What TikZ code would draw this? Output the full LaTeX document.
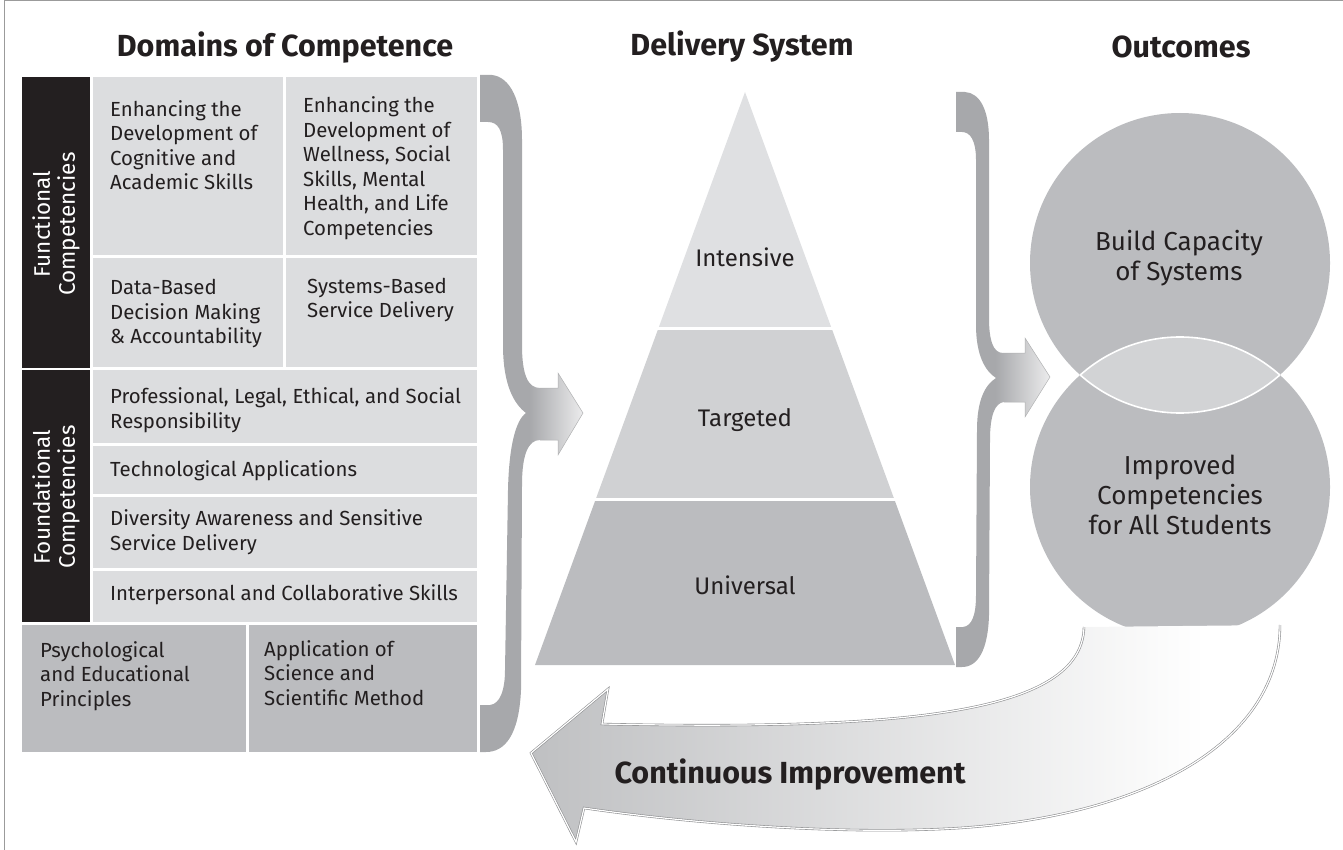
\documentclass[tikz,border=0pt]{standalone}
\usepackage{fontspec}
\setmainfont{Fira Sans}
\definecolor{ink}{HTML}{231F20}
\definecolor{cellL}{HTML}{DCDDDF}
\definecolor{cellD}{HTML}{BBBCBF}
\definecolor{braceG}{HTML}{A7A8AB}
\definecolor{braceL}{HTML}{ECECED}
\definecolor{pyrI}{HTML}{DFE0E2}
\definecolor{pyrT}{HTML}{D0D1D3}
\definecolor{pyrU}{HTML}{BBBCBF}
\definecolor{lensC}{HTML}{D2D3D5}
\definecolor{arrowG}{HTML}{BFC0C2}
\definecolor{frameC}{HTML}{9B9B9B}
\definecolor{edgeC}{HTML}{8E8F91}
\pgfdeclarehorizontalshading{braceA}{100bp}{color(0bp)=(braceG); color(49bp)=(braceG); color(75bp)=(braceL); color(100bp)=(braceL)}
\pgfdeclarehorizontalshading{braceB}{100bp}{color(0bp)=(braceG); color(46bp)=(braceG); color(75bp)=(braceL); color(100bp)=(braceL)}
\pgfdeclarehorizontalshading{ciShade}{100bp}{color(0bp)=(arrowG); color(25bp)=(arrowG); color(70bp)=(white); color(100bp)=(white)}
\tikzset{
  celltext/.style={anchor=west, align=left, inner sep=0pt, text=ink, font=\fontsize{20.4}{24.5}\selectfont},
  titletext/.style={inner sep=0pt, text=ink, font=\fontsize{30.5}{34}\selectfont\bfseries},
  sidetext/.style={rotate=90, align=center, inner sep=0pt, text=white, font=\fontsize{22.5}{25}\selectfont},
  pyrtext/.style={inner sep=0pt, text=ink, font=\fontsize{24}{28}\selectfont},
  circtext/.style={align=center, inner sep=0pt, text=ink, font=\fontsize{26}{30}\selectfont},
  sepline/.style={draw=white, line width=3pt},
}
\begin{document}
\begin{tikzpicture}[x=1pt,y=-1pt]
\useasboundingbox (0,0) rectangle (1343,850);
% frame
\draw[frameC, line width=1.5pt] (4.5,850) -- (4.5,0.75) -- (1343,0.75);

% titles
\node[titletext] (t1) at (285,48) {Domains of Competence};
\node[titletext] (t2) at (742,47) {Delivery System};
\node[titletext] (t3) at (1181,47) {Outcomes};

% black side bars
\fill[ink] (22,77) rectangle (90,368);
\fill[ink] (22,370) rectangle (90,622);
\node[sidetext] (fc) at (56,224) {Functional\\Competencies};
\node[sidetext] (fo) at (56,497) {Foundational\\Competencies};

% functional cells
\fill[cellL] (93,77) rectangle (283,255);
\fill[cellL] (286,77) rectangle (477,255);
\fill[cellL] (93,258) rectangle (283,367);
\fill[cellL] (286,258) rectangle (477,367);
\node[celltext] (c1) at (110,145) {Enhancing the\\Development of\\Cognitive and\\Academic Skills};
\node[celltext] (c2) at (303,168) {Enhancing the\\Development of\\Wellness, Social\\Skills, Mental\\Health, and Life\\Competencies};
\node[celltext] (c3) at (110,314) {Data-Based\\Decision Making\\\& Accountability};
\node[celltext] (c4) at (307,300) {Systems-Based\\Service Delivery};

% foundational rows
\fill[cellL] (93,370) rectangle (477,443);
\fill[cellL] (93,446) rectangle (477,494);
\fill[cellL] (93,497) rectangle (477,568);
\fill[cellL] (93,571) rectangle (477,622);
\node[celltext] (f1) at (110,410) {Professional, Legal, Ethical, and Social\\Responsibility};
\node[celltext] (f2) at (110,471) {Technological Applications};
\node[celltext] (f3) at (110,532) {Diversity Awareness and Sensitive\\Service Delivery};
\node[celltext] (f4) at (110,595) {Interpersonal and Collaborative Skills};

% bottom cells
\fill[cellD] (22,625) rectangle (246,752);
\fill[cellD] (249,625) rectangle (477,752);
\node[celltext] (b1) at (40,676) {Psychological\\and Educational\\Principles};
\node[celltext] (b2) at (264,673) {Application of\\Science and\\Scientific Method};

% brace 1
\shade[shading=braceA]
  (480,75) -- (492,75) .. controls (510,77) and (522,100) .. (522,140)
  -- (522,345) .. controls (522,375) and (528,388) .. (540,388)
  -- (558,388) -- (558,373) -- (583,413) -- (558,455) -- (558,440) -- (540,440)
  .. controls (528,440) and (522,455) .. (522,485)
  -- (521,690) .. controls (519,735) and (505,752) .. (486,752) -- (480,752)
  -- (480,705) -- (490,705) .. controls (500,704) and (505,690) .. (505,670)
  -- (508,490) .. controls (509,445) and (516,420) .. (526,413)
  .. controls (514,404) and (503,385) .. (503,345)
  -- (503,150) .. controls (503,130) and (498,122) .. (488,122) -- (480,122) -- cycle;
\draw[edgeC!70, line width=0.5pt] (540,388) -- (558,388) -- (558,373) -- (583,413) -- (558,455) -- (558,440) -- (540,440);

% pyramid
\fill[pyrI] (745,92) -- (658.5,328) -- (831.5,328) -- cycle;
\fill[pyrT] (658.5,328) -- (831.5,328) -- (894.2,499) -- (595.8,499) -- cycle;
\fill[pyrU] (595.8,499) -- (894.2,499) -- (955,665) -- (535,665) -- cycle;
\draw[sepline] (650,328) -- (840,328);
\draw[sepline] (588,499) -- (902,499);
\node[pyrtext] (p1) at (745,257) {Intensive};
\node[pyrtext] (p2) at (745,420) {Targeted};
\node[pyrtext] (p3) at (745,585) {Universal};

% brace 2
\shade[shading=braceB]
  (956,92) -- (965,92) .. controls (980,93) and (989,110) .. (989,140)
  -- (989,318) .. controls (989,340) and (993,353) .. (1003,353)
  -- (1025,353) -- (1025,338) -- (1050,377) -- (1025,417) -- (1025,402) -- (1004,402)
  .. controls (995,403) and (990,415) .. (990,440)
  -- (989,615) .. controls (988,650) and (978,667) .. (962,667) -- (956,667)
  -- (956,627) -- (963,627) .. controls (972,626) and (976,615) .. (976,595)
  -- (977,430) .. controls (977,400) and (985,385) .. (996,378)
  .. controls (985,371) and (976,355) .. (976,325)
  -- (976,160) .. controls (976,140) and (970,132) .. (962,132) -- (956,132) -- cycle;
\draw[edgeC!70, line width=0.5pt] (1003,353) -- (1025,353) -- (1025,338) -- (1050,377) -- (1025,417) -- (1025,402) -- (1004,402);

% circles
\node[circle, fill=cellD, minimum size=300pt, inner sep=0pt] (o1) at (1180,263) {};
\node[circle, fill=cellD, minimum size=300pt, inner sep=0pt] (o2) at (1180,487) {};
\begin{scope}
  \clip (1180,263) circle[radius=150];
  \fill[lensC] (1180,487) circle[radius=150];
  \draw[white, line width=1.6pt] (1180,487) circle[radius=150];
\end{scope}
\begin{scope}
  \clip (1180,487) circle[radius=150];
  \draw[white, line width=1.6pt] (1180,263) circle[radius=150];
\end{scope}
\node[circtext] (o1t) at (1179,258) {Build Capacity\\of Systems};
\node[circtext] (o2t) at (1180,495) {Improved\\Competencies\\for All Students};

% continuous improvement arrow
\shade[shading=ciShade, draw=edgeC, line width=0.6pt, double=white, double distance=1.2pt]
  (1084,627) .. controls (1082,715) and (900,730) .. (602,724)
  -- (608,689) -- (531,753) -- (576,842) -- (584,808)
  .. controls (700,825) and (850,835) .. (960,828)
  .. controls (1150,815) and (1280,740) .. (1280,625);
\node[inner sep=0pt, text=ink, font=\fontsize{30.5}{34}\selectfont\bfseries] (ci) at (790,775) {Continuous Improvement};
\end{tikzpicture}
\end{document}
